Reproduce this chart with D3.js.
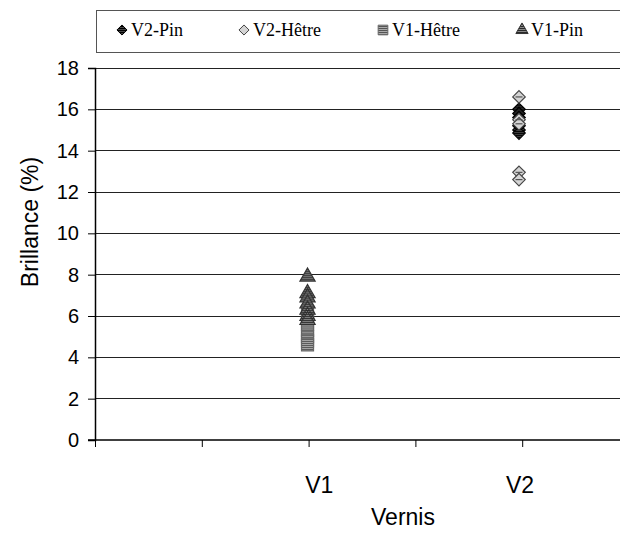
<!DOCTYPE html>
<html><head><meta charset="utf-8">
<script src="https://cdn.jsdelivr.net/npm/d3@7/dist/d3.min.js"></script>
<style>body{margin:0;background:#fff}svg{display:block}</style>
</head><body><svg id="c" width="620" height="535"></svg>
<script>
const categories = ["V1", "V2"];
const categoryX = [1.99, 3.97];
const categoryLabelX = [2.1, 3.98];
const xTicks = [0, 1, 2, 3, 4, 5];
const yTicks = [0, 2, 4, 6, 8, 10, 12, 14, 16, 18];
const seriesNames = ["V2-Pin", "V2-Hêtre", "V1-Hêtre", "V1-Pin"];
const seriesCategory = ["V2", "V2", "V1", "V1"];
const v2Pin = [16.0, 15.8, 15.6, 15.2, 15.0, 14.85];
const v2Hetre = [16.6, 15.5, 15.3, 12.95, 12.6];
const v1Hetre = [6.2, 5.9, 5.6, 5.3, 5.0, 4.8, 4.6];
const v1Pin = [7.9, 7.1, 6.9, 6.6, 6.3, 6.0, 5.8];
const seriesValues = [v2Pin, v2Hetre, v1Hetre, v1Pin];

const svg = d3.select("#c");
const mLeft = 95, mRight = 629, mTop = 68, mBottom = 440;
const x = d3.scaleLinear().domain([0, 5]).range([mLeft, mRight]);
const y = d3.scaleLinear().domain([0, 18]).range([mBottom, mTop]);

const defs = svg.append("defs");
function hatch(id, bg, fg) {
  const p = defs.append("pattern").attr("id", id).attr("patternUnits", "userSpaceOnUse")
    .attr("width", 3).attr("height", 2);
  p.append("rect").attr("width", 3).attr("height", 2).attr("fill", bg);
  p.append("rect").attr("width", 3).attr("height", 1).attr("fill", fg);
}
hatch("hH", "#aaa", "#555");
hatch("hP", "#888", "#2a2a2a");
hatch("hD", "#444", "#000");

// gridlines
svg.append("g").selectAll("line").data(yTicks.filter(d => d > 0)).join("line")
  .attr("x1", mLeft).attr("x2", 620).attr("y1", d => y(d)).attr("y2", d => y(d))
  .attr("stroke", "#222").attr("stroke-width", 1).attr("shape-rendering", "crispEdges");

// y axis
const ya = svg.append("g").attr("transform", `translate(${mLeft},0)`)
  .call(d3.axisLeft(y).tickValues(yTicks).tickSize(7).tickPadding(9));
ya.select(".domain").attr("stroke", "#000").attr("stroke-width", 1.5);
ya.selectAll(".tick line").attr("stroke", "#000");
ya.selectAll("text").attr("font-family", "Liberation Sans, Arial, sans-serif").attr("font-size", 20).attr("fill", "#000");

// x axis
const xa = svg.append("g").attr("transform", `translate(0,${mBottom})`)
  .call(d3.axisBottom(x).tickValues(xTicks).tickSize(7).tickFormat(""));
xa.select(".domain").attr("d", `M${mLeft - 7},0H620`).attr("stroke", "#000").attr("stroke-width", 1.5);
xa.selectAll(".tick line").attr("stroke", "#000");

svg.append("g").selectAll("text").data(categories).join("text")
  .attr("x", (d, i) => x(categoryLabelX[i])).attr("y", 493)
  .attr("text-anchor", "middle").attr("font-family", "Liberation Sans, Arial, sans-serif")
  .attr("font-size", 23).text(d => d);

svg.append("text").attr("x", 403).attr("y", 525).attr("text-anchor", "middle")
  .attr("font-family", "Liberation Sans, Arial, sans-serif").attr("font-size", 23).text("Vernis");
svg.append("text").attr("transform", "translate(38,222) rotate(-90)").attr("text-anchor", "middle")
  .attr("font-family", "Liberation Sans, Arial, sans-serif").attr("font-size", 23).text("Brillance (%)");

const styles = [
  {sym: d3.symbolDiamond2, size: 100, fill: "url(#hD)", stroke: "#000"},
  {sym: d3.symbolDiamond2, size: 100, fill: "#d4d4d4", stroke: "#444"},
  {sym: d3.symbolSquare, size: 144, fill: "url(#hH)", stroke: "#666"},
  {sym: d3.symbolTriangle, size: 100, fill: "url(#hP)", stroke: "#333"}
];

// points
seriesValues.forEach((vals, si) => {
  const cx = x(categoryX[categories.indexOf(seriesCategory[si])]);
  const st = styles[si];
  const g = svg.append("g");
  g.selectAll("path").data(vals).join("path")
    .attr("d", d3.symbol(st.sym, st.size)())
    .attr("transform", d => `translate(${cx},${y(d)})`)
    .attr("fill", st.fill).attr("stroke", st.stroke).attr("stroke-width", 1.2);
  if (si === 1) {
    g.selectAll("line").data(vals).join("line")
      .attr("x1", cx - 3.5).attr("x2", cx + 3.5).attr("y1", d => y(d)).attr("y2", d => y(d))
      .attr("stroke", "#555").attr("stroke-width", 1.2);
  }
});

// legend
const lg = svg.append("g");
lg.append("rect").attr("x", 96.5).attr("y", 10.5).attr("width", 540).attr("height", 42)
  .attr("fill", "#fff").attr("stroke", "#555").attr("stroke-width", 1);
const legendX = [122, 244, 383, 522];
seriesNames.forEach((n, i) => {
  const st = styles[i];
  lg.append("path").attr("d", d3.symbol(st.sym, st.size * 0.65)())
    .attr("transform", `translate(${legendX[i]},30)`)
    .attr("fill", st.fill).attr("stroke", st.stroke);
  lg.append("text").attr("x", legendX[i] + 9).attr("y", 36)
    .attr("font-family", "Liberation Serif, Times New Roman, serif").attr("font-size", 18).text(n);
});
</script></body></html>
